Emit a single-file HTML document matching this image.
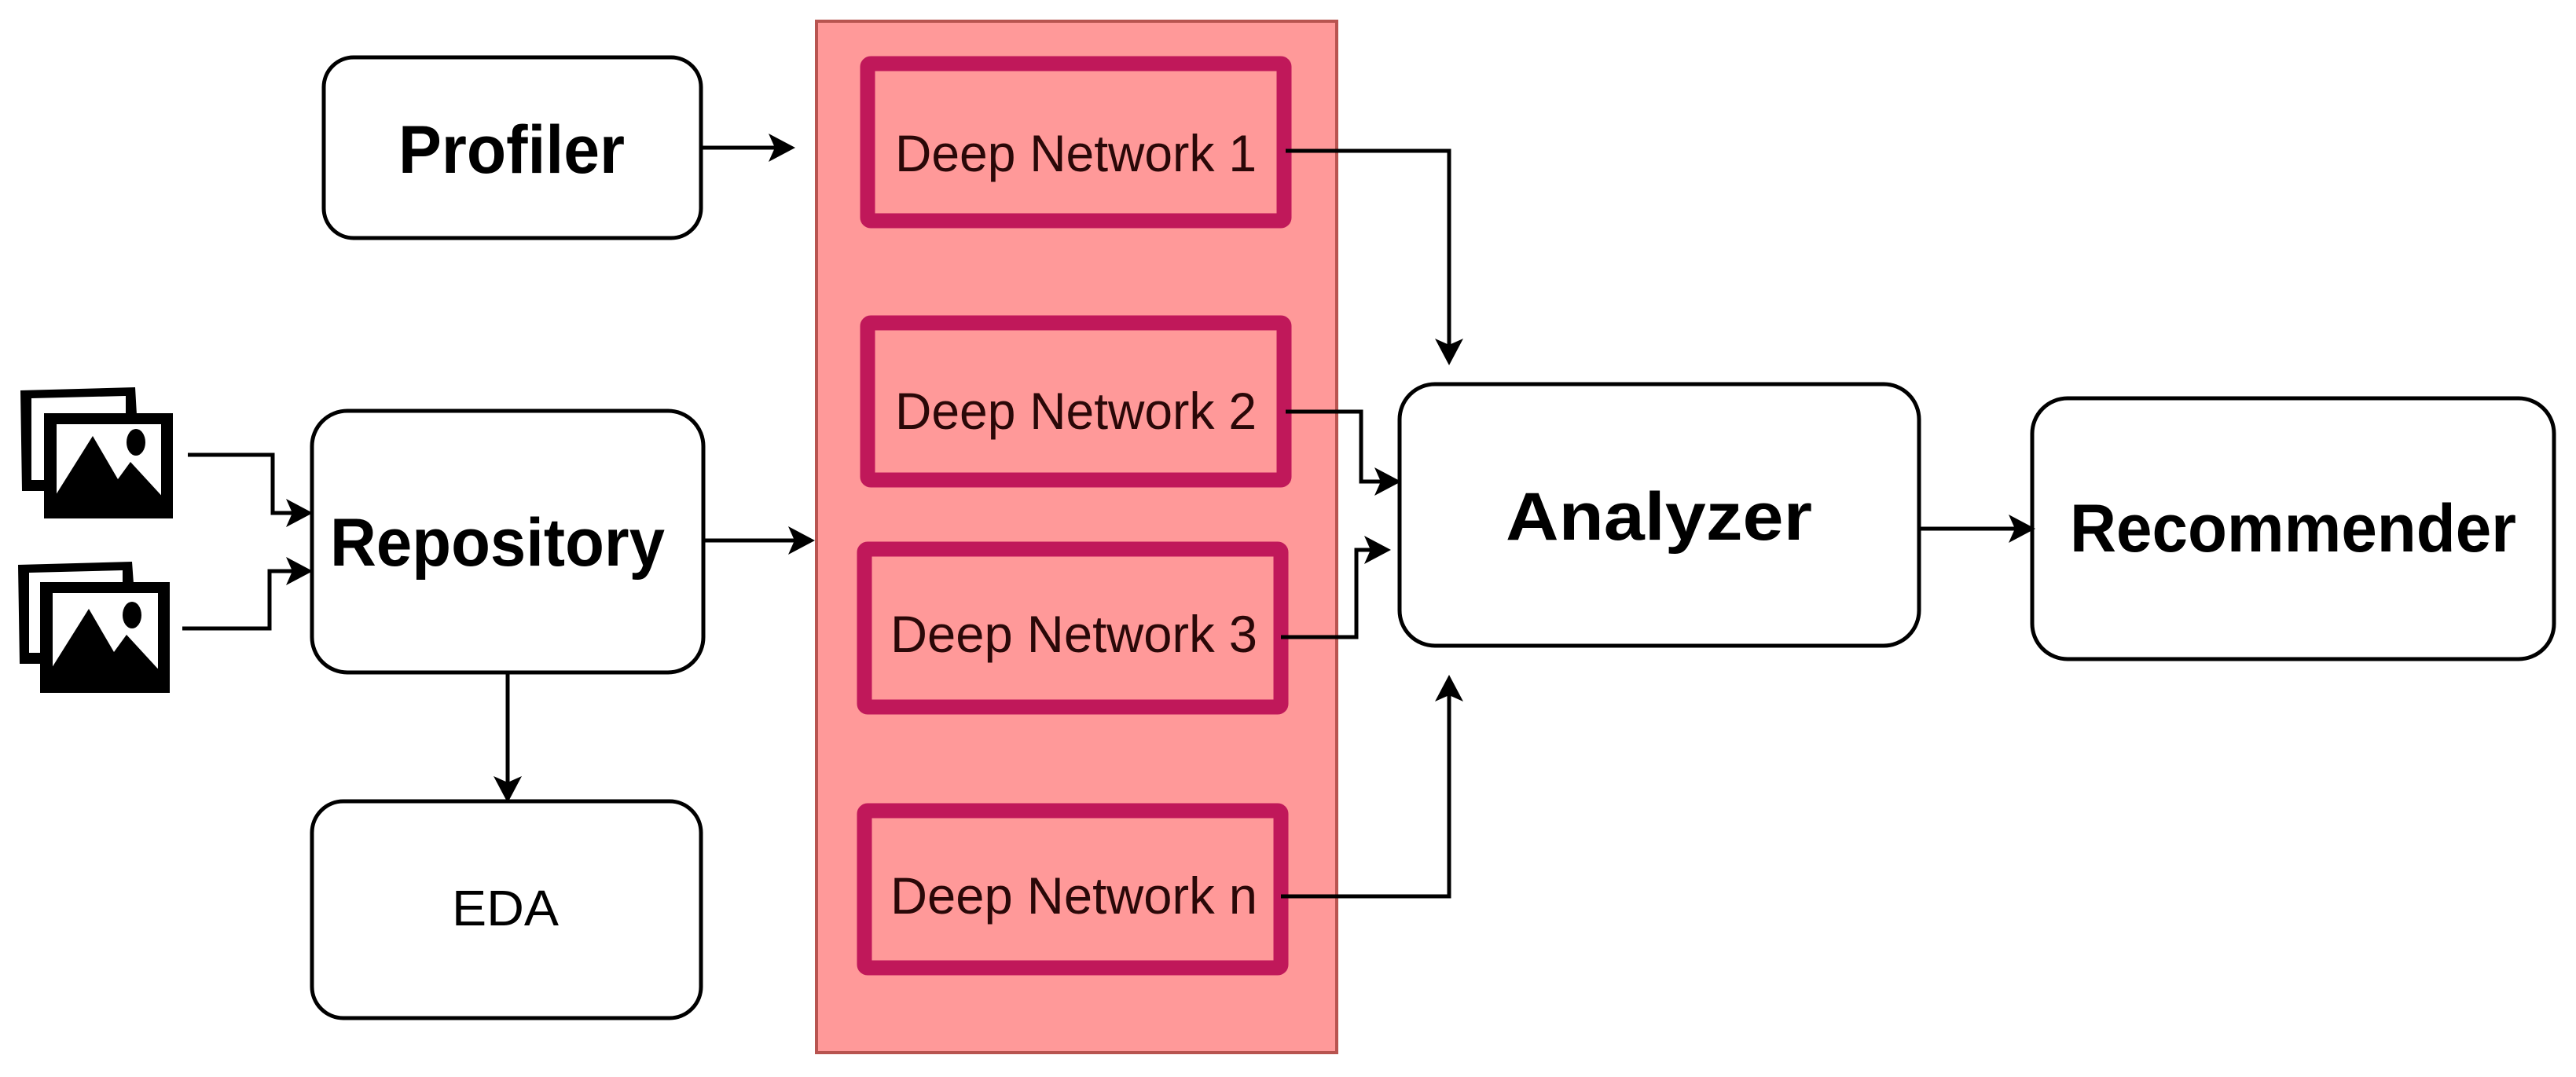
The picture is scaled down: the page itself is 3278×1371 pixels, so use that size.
<!DOCTYPE html>
<html><head><meta charset="utf-8"><style>html,body{margin:0;padding:0;background:#fff}svg{display:block}</style></head>
<body>
<svg width="3278" height="1371" viewBox="0 0 3278 1371" xmlns="http://www.w3.org/2000/svg" font-family="Liberation Sans, Arial, sans-serif">
<!-- pink panel -->
<rect x="1039" y="27" width="662" height="1313" fill="#ff9999" stroke="#b85450" stroke-width="4"/>
<!-- deep network boxes -->
<g fill="#ff9999" stroke="#c0185a" stroke-width="19">
<rect x="1104" y="81" width="530" height="200" rx="4"/>
<rect x="1104" y="411" width="530" height="200" rx="4"/>
<rect x="1100" y="699" width="530" height="201" rx="4"/>
<rect x="1100" y="1032" width="530" height="200" rx="4"/>
</g>
<g font-size="66" fill="#2a0808">
<text x="1139" y="218" textLength="460" lengthAdjust="spacingAndGlyphs">Deep Network 1</text>
<text x="1139" y="546" textLength="460" lengthAdjust="spacingAndGlyphs">Deep Network 2</text>
<text x="1133" y="830" textLength="467" lengthAdjust="spacingAndGlyphs">Deep Network 3</text>
<text x="1133" y="1163" textLength="467" lengthAdjust="spacingAndGlyphs">Deep Network n</text>
</g>
<!-- white boxes -->
<g fill="#fff" stroke="#000" stroke-width="5">
<rect x="412" y="73" width="480" height="230" rx="38"/>
<rect x="397" y="523" width="498" height="333" rx="45"/>
<rect x="397" y="1020" width="495" height="276" rx="40"/>
<rect x="1781" y="489" width="661" height="333" rx="45"/>
<rect x="2586" y="507" width="664" height="332" rx="45"/>
</g>
<g font-weight="bold" font-size="86" fill="#000">
<text x="507" y="220" textLength="288" lengthAdjust="spacingAndGlyphs">Profiler</text>
<text x="420" y="720" textLength="426" lengthAdjust="spacingAndGlyphs">Repository</text>
<text x="1916" y="687" textLength="390" lengthAdjust="spacingAndGlyphs">Analyzer</text>
<text x="2634" y="702" textLength="568" lengthAdjust="spacingAndGlyphs">Recommender</text>
</g>
<text x="575" y="1178" font-size="64" textLength="136" lengthAdjust="spacingAndGlyphs">EDA</text>
<!-- connectors -->
<g fill="none" stroke="#000" stroke-width="5">
<path d="M892 188 H995"/>
<path d="M895 688 H1020"/>
<path d="M1636 192 H1844 V448"/>
<path d="M1636 524 H1732 V613 H1766"/>
<path d="M1630 811 H1726 V700 H1753"/>
<path d="M1630 1141 H1844 V876"/>
<path d="M2442 673 H2572"/>
<path d="M239 579 H347 V653 H381"/>
<path d="M232 800 H343 V727 H381"/>
<path d="M646 856 V1005"/>
</g>
<!-- arrowheads -->
<g fill="#000">
<path d="M1012 188 L978 170 L986 188 L978 206 Z"/>
<path d="M1037 688 L1003 670 L1011 688 L1003 706 Z"/>
<path d="M1844 465 L1826 431 L1844 439 L1862 431 Z"/>
<path d="M1783 613 L1749 595 L1757 613 L1749 631 Z"/>
<path d="M1770 700 L1736 682 L1744 700 L1736 718 Z"/>
<path d="M1844 859 L1826 893 L1844 885 L1862 893 Z"/>
<path d="M2590 673 L2556 655 L2564 673 L2556 691 Z"/>
<path d="M398 653 L364 635 L372 653 L364 671 Z"/>
<path d="M398 727 L364 709 L372 727 L364 745 Z"/>
<path d="M646 1022 L628 988 L646 996 L664 988 Z"/>
</g>
<!-- image icons -->
<g>
<g>
<path d="M26 497 L172 493 L174 528 L62 528 L62 625 L28 625 Z" fill="#000"/>
<path d="M40 507 L160 504 L160 528 L62 528 L62 611 L40 611 Z" fill="#fff"/>
<rect x="56" y="526" width="164" height="134" fill="#000"/>
<rect x="72" y="540" width="133" height="92" fill="#fff"/>
<path d="M66 638 L118 555 L150 610 L166 588 L212 638 Z" fill="#000"/>
<ellipse cx="173" cy="563" rx="12" ry="17" fill="#000"/>
</g>
<g>
<path d="M23 719 L168 715 L170 743 L57 743 L57 845 L25 845 Z" fill="#000"/>
<path d="M37 729 L156 726 L156 743 L57 743 L57 831 L37 831 Z" fill="#fff"/>
<rect x="51" y="741" width="165" height="141" fill="#000"/>
<rect x="67" y="755" width="134" height="96" fill="#fff"/>
<path d="M61 858 L113 775 L145 830 L161 808 L207 858 Z" fill="#000"/>
<ellipse cx="168" cy="783" rx="12" ry="17" fill="#000"/>
</g>
</g>
</svg>
</body></html>
